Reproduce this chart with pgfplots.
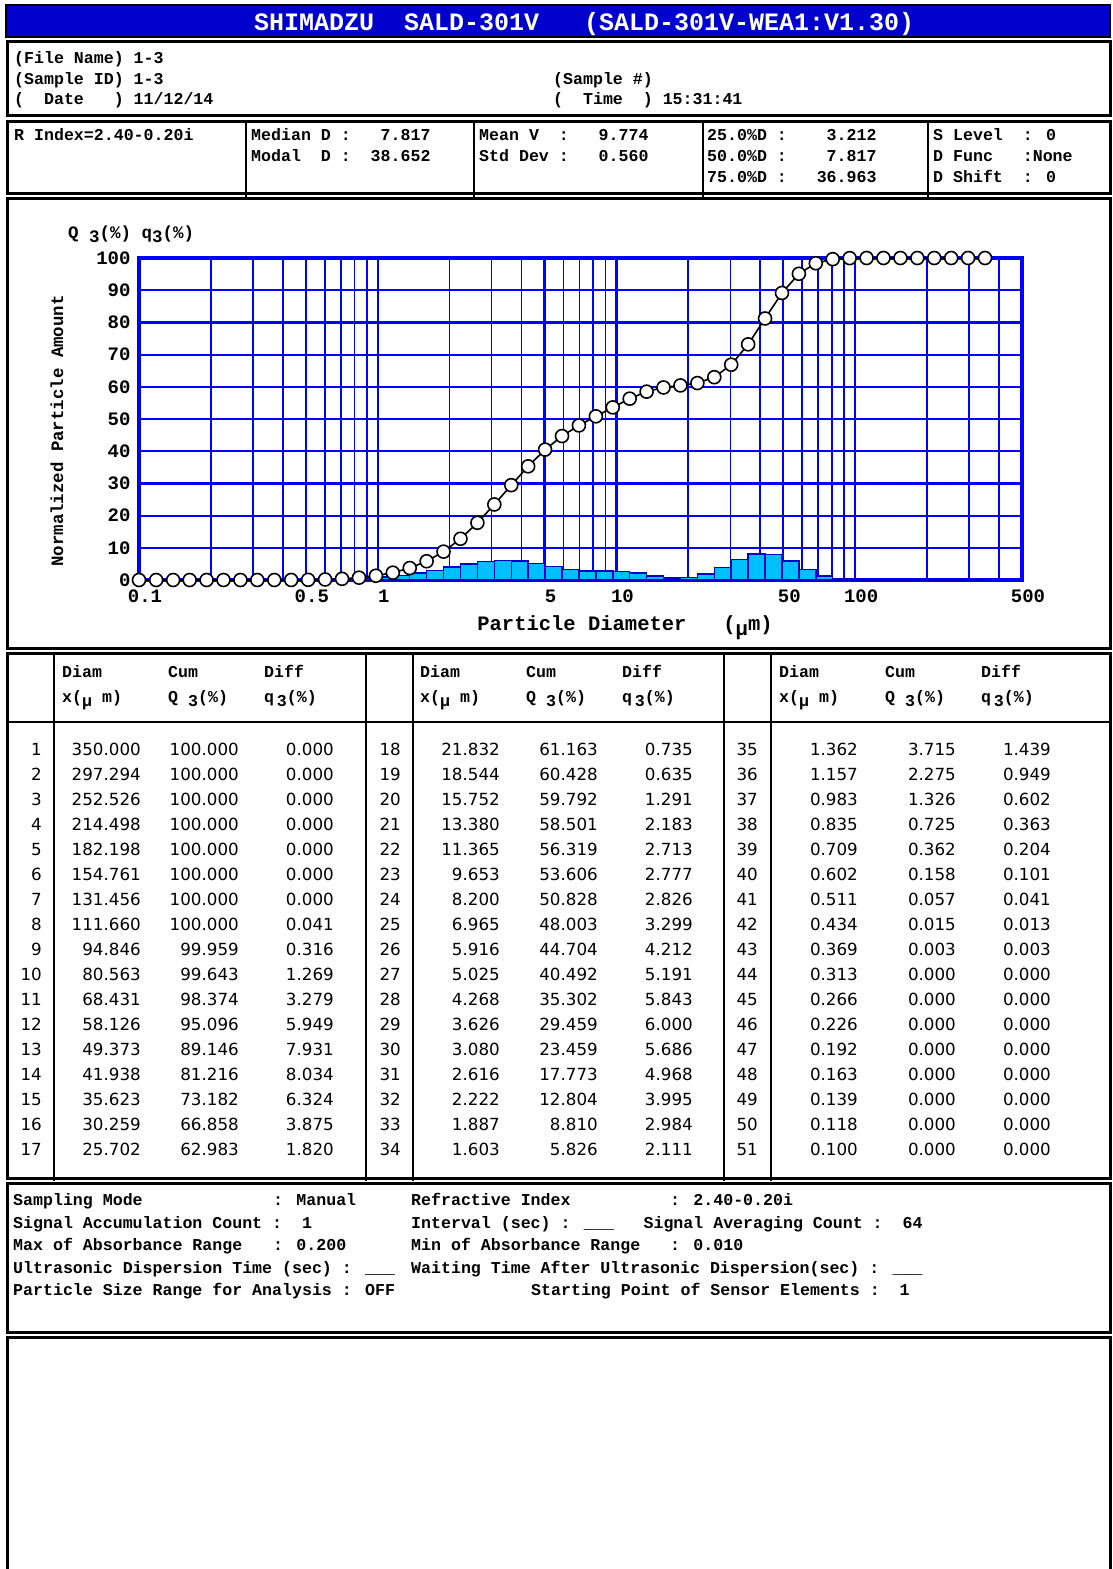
\documentclass[border=0pt]{standalone}
\usepackage{pgfplots}
\pgfplotsset{compat=1.18}
\usepackage{pgfplotstable}
\usepackage{fontspec}
\setmainfont{DejaVu Sans}
\newfontfamily\mono{Liberation Mono}
\newfontfamily\num{DejaVu Sans}
\newcommand{\fs}[1]{\fontsize{#1}{#1}\selectfont}
\definecolor{titleblue}{RGB}{0,0,205}
\definecolor{gridblue}{RGB}{0,0,255}
\definecolor{barfill}{RGB}{0,191,255}
\definecolor{baredge}{RGB}{0,0,200}

\pgfplotstableread{
d Q
0.100 0.000
0.118 0.000
0.139 0.000
0.163 0.000
0.192 0.000
0.226 0.000
0.266 0.000
0.313 0.000
0.369 0.003
0.434 0.015
0.511 0.057
0.602 0.158
0.709 0.362
0.835 0.725
0.983 1.326
1.157 2.275
1.362 3.715
1.603 5.826
1.887 8.810
2.222 12.804
2.616 17.773
3.080 23.459
3.626 29.459
4.268 35.302
5.025 40.492
5.916 44.704
6.965 48.003
8.200 50.828
9.653 53.606
11.365 56.319
13.380 58.501
15.752 59.792
18.544 60.428
21.832 61.163
25.702 62.983
30.259 66.858
35.623 73.182
41.938 81.216
49.373 89.146
58.126 95.096
68.431 98.374
80.563 99.643
94.846 99.959
111.660 100.000
131.456 100.000
154.761 100.000
182.198 100.000
214.498 100.000
252.526 100.000
297.294 100.000
350.000 100.000
}\cumdata

\pgfplotstableread{
d q
0.100 0
0.118 0
0.139 0
0.163 0
0.192 0
0.226 0
0.266 0
0.313 0.003
0.369 0.013
0.434 0.041
0.511 0.101
0.602 0.204
0.709 0.363
0.835 0.602
0.983 0.949
1.157 1.439
1.362 2.111
1.603 2.984
1.887 3.995
2.222 4.968
2.616 5.686
3.080 6.000
3.626 5.843
4.268 5.191
5.025 4.212
5.916 3.299
6.965 2.826
8.200 2.777
9.653 2.713
11.365 2.183
13.380 1.291
15.752 0.635
18.544 0.735
21.832 1.820
25.702 3.875
30.259 6.324
35.623 8.034
41.938 7.931
49.373 5.949
58.126 3.279
68.431 1.269
80.563 0.316
94.846 0.041
111.660 0
131.456 0
154.761 0
182.198 0
214.498 0
252.526 0
297.294 0
350.000 0
}\bardata

\begin{document}
\begin{tikzpicture}
\begin{scope}[x=1pt,y=-1pt,every node/.style={inner sep=0pt}]
\useasboundingbox (0,0) rectangle (1112,1569);
\fill[white] (0,0) rectangle (1112,1569);
% ---------- title bar
\fill[titleblue] (6,5) rectangle (1110,37);
\draw[black,line width=2pt] (6,5) rectangle (1110,37);
\node[anchor=base west,text=white,font=\mono\bfseries\fs{25}] at (254,30) {SHIMADZU~~SALD-301V~~~(SALD-301V-WEA1:V1.30)};
% ---------- info box
\draw[black,line width=3pt] (7,41) rectangle (1110,115);
\begin{scope}[every node/.style={inner sep=0pt,anchor=base west,font=\mono\bfseries\fs{16.6}}]
\node at (14,63) {(File Name) 1-3};
\node at (14,84) {(Sample ID) 1-3};
\node at (14,104) {(~~Date~~~) 11/12/14};
\node at (553,84) {(Sample \#)};
\node at (553,104) {(~~Time~~) 15:31:41};
\end{scope}
% ---------- stats box
\draw[black,line width=3pt] (7,121) rectangle (1110,193);
\foreach \xx in {246,474,703,928} \draw[black,line width=1.2pt] (\xx,121) -- (\xx,197);
\begin{scope}[every node/.style={inner sep=0pt,anchor=base west,font=\mono\bfseries\fs{16.6}}]
\node at (14,140.5) {R Index=2.40-0.20i};
\node at (251,140.5) {Median D :~~~7.817};
\node at (251,161.5) {Modal~~D :~~38.652};
\node at (479,140.5) {Mean V~~:~~~9.774};
\node at (479,161.5) {Std Dev :~~~0.560};
\node at (707,140.5) {25.0\%D :~~~~3.212};
\node at (707,161.5) {50.0\%D :~~~~7.817};
\node at (707,182.5) {75.0\%D :~~~36.963};
\node at (933,140.5) {S Level~~: 0};
\node at (933,161.5) {D Func~~~:None};
\node at (933,182.5) {D Shift~~: 0};
\end{scope}
% ---------- chart box
\draw[black,line width=3pt] (7,198) rectangle (1110,648);
\node[anchor=base west,font=\mono\bfseries\fs{17.5}] at (68,238) {Q~\raisebox{-4pt}{3}(\%) q\raisebox{-4pt}{3}(\%)};
\node[rotate=90,font=\mono\bfseries\fs{17.4}] at (57,431) {Normalized Particle Amount};
\node[font=\mono\bfseries\fs{20.5}] at (625,628) {Particle Diameter~~~(\raisebox{-5pt}{μ}m)};
% ---------- table box
\draw[black,line width=3pt] (7,653) rectangle (1110,1178);
\draw[black,line width=1.2pt] (7,722) -- (1110,722);
\foreach \xx in {54,366,413,724,771} \draw[black,line width=1.2pt] (\xx,653) -- (\xx,1181);
\foreach \off in {0,358,717} {
  \begin{scope}[every node/.style={inner sep=0pt,anchor=base west,font=\mono\bfseries\fs{16.6}}]
  \node at (62+\off,677.5) {Diam};
  \node at (62+\off,702.5) {x(\raisebox{-4pt}{μ} m)};
  \node at (168+\off,677.5) {Cum};
  \node at (168+\off,702.5) {Q \raisebox{-4pt}{3}(\%)};
  \node at (264+\off,677.5) {Diff};
  \node at (264+\off,702.5) {q\,\raisebox{-4pt}{3}(\%)};
  \end{scope}
}
\begin{scope}[every node/.style={inner sep=0pt,anchor=base east,font=\num\fs{16.7}}]
\foreach \i/\d/\c/\f [count=\k from 0] in {
1/350.000/100.000/0.000,
2/297.294/100.000/0.000,
3/252.526/100.000/0.000,
4/214.498/100.000/0.000,
5/182.198/100.000/0.000,
6/154.761/100.000/0.000,
7/131.456/100.000/0.000,
8/111.660/100.000/0.041,
9/94.846/99.959/0.316,
10/80.563/99.643/1.269,
11/68.431/98.374/3.279,
12/58.126/95.096/5.949,
13/49.373/89.146/7.931,
14/41.938/81.216/8.034,
15/35.623/73.182/6.324,
16/30.259/66.858/3.875,
17/25.702/62.983/1.820}{
  \pgfmathsetmacro\yy{749+25.05*\k+6}
  \node at (42,\yy) {\i};
  \node at (141,\yy) {\d};
  \node at (239,\yy) {\c};
  \node at (334,\yy) {\f};
}
\foreach \i/\d/\c/\f [count=\k from 0] in {
18/21.832/61.163/0.735,
19/18.544/60.428/0.635,
20/15.752/59.792/1.291,
21/13.380/58.501/2.183,
22/11.365/56.319/2.713,
23/9.653/53.606/2.777,
24/8.200/50.828/2.826,
25/6.965/48.003/3.299,
26/5.916/44.704/4.212,
27/5.025/40.492/5.191,
28/4.268/35.302/5.843,
29/3.626/29.459/6.000,
30/3.080/23.459/5.686,
31/2.616/17.773/4.968,
32/2.222/12.804/3.995,
33/1.887/8.810/2.984,
34/1.603/5.826/2.111}{
  \pgfmathsetmacro\yy{749+25.05*\k+6}
  \node at (401,\yy) {\i};
  \node at (500,\yy) {\d};
  \node at (598,\yy) {\c};
  \node at (693,\yy) {\f};
}
\foreach \i/\d/\c/\f [count=\k from 0] in {
35/1.362/3.715/1.439,
36/1.157/2.275/0.949,
37/0.983/1.326/0.602,
38/0.835/0.725/0.363,
39/0.709/0.362/0.204,
40/0.602/0.158/0.101,
41/0.511/0.057/0.041,
42/0.434/0.015/0.013,
43/0.369/0.003/0.003,
44/0.313/0.000/0.000,
45/0.266/0.000/0.000,
46/0.226/0.000/0.000,
47/0.192/0.000/0.000,
48/0.163/0.000/0.000,
49/0.139/0.000/0.000,
50/0.118/0.000/0.000,
51/0.100/0.000/0.000}{
  \pgfmathsetmacro\yy{749+25.05*\k+6}
  \node at (758,\yy) {\i};
  \node at (858,\yy) {\d};
  \node at (956,\yy) {\c};
  \node at (1051,\yy) {\f};
}
\end{scope}
% ---------- settings box
\draw[black,line width=3pt] (7,1183) rectangle (1110,1332);
\begin{scope}[every node/.style={inner sep=0pt,anchor=base west,font=\mono\bfseries\fs{16.6}}]
\node at (13,1205.5) {Sampling Mode};
\node at (273,1205.5) {: Manual};
\node at (411,1205.5) {Refractive Index};
\node at (670,1205.5) {: 2.40-0.20i};
\node at (13,1228) {Signal Accumulation Count :~~1};
\node at (411,1228) {Interval (sec) : \_\_\_~~~Signal Averaging Count :~~64};
\node at (13,1250.5) {Max of Absorbance Range};
\node at (273,1250.5) {: 0.200};
\node at (411,1250.5) {Min of Absorbance Range};
\node at (670,1250.5) {: 0.010};
\node at (13,1273) {Ultrasonic Dispersion Time (sec) : \_\_\_};
\node at (411,1273) {Waiting Time After Ultrasonic Dispersion(sec) : \_\_\_};
\node at (13,1295.5) {Particle Size Range for Analysis : OFF};
\node at (531,1295.5) {Starting Point of Sensor Elements :~~1};
\end{scope}
% ---------- last box
\draw[black,line width=3pt] (7,1575) -- (7,1337) -- (1110,1337) -- (1110,1575);
\end{scope}

\begin{axis}[
  at={(139pt,-580pt)}, anchor=south west,
  scale only axis, width=883pt, height=322pt,
  xmode=log, xmin=0.1, xmax=500, ymin=0, ymax=100,
  xtick={0.1,0.5,1,5,10,50,100,500},
  xticklabels={0.1,0.5,1,5,10,50,100,500},
  minor xtick={0.2,0.3,0.4,0.6,0.7,0.8,0.9,2,3,4,6,7,8,9,20,30,40,60,70,80,90,200,300,400},
  ytick={0,10,20,30,40,50,60,70,80,90,100},
  yticklabels={0,10,20,30,40,50,60,70,80,90,100},
  grid=both,
  major grid style={gridblue, line width=2.2pt},
  minor grid style={gridblue, line width=1.6pt},
  axis line style={gridblue, line width=4.5pt},
  major tick length=0pt, minor tick length=0pt,
  tick style={draw=none},
  ticklabel style={font=\mono\bfseries\fs{19}},
  xticklabel style={xshift=6pt, yshift=-6pt},
  yticklabel style={xshift=-5pt},
  clip=false,
]
\addplot[ybar interval, fill=barfill, draw=baredge, line width=1.5pt] table[x=d,y=q]{\bardata};
\addplot[black, line width=1.6pt, mark=*, mark size=6.5pt, mark options={fill=white, draw=black, line width=1.6pt}] table[x=d,y=Q]{\cumdata};
\end{axis}
\end{tikzpicture}
\end{document}
